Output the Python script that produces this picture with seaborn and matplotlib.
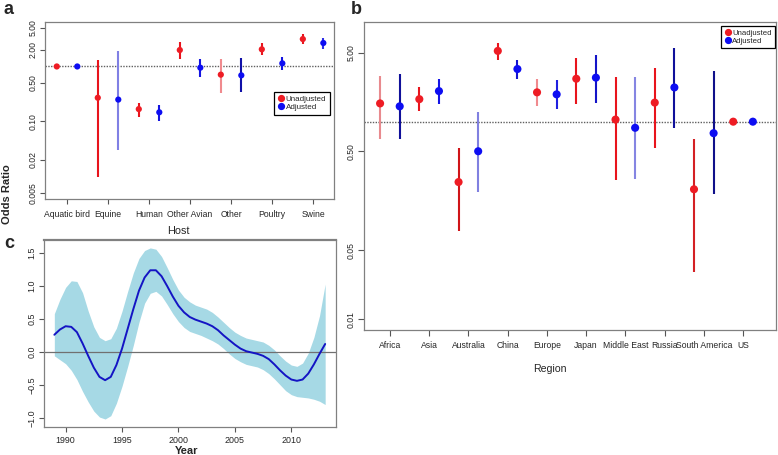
import numpy as np
import pandas as pd
import matplotlib
matplotlib.use("Agg")
import matplotlib.pyplot as plt
import seaborn as sns
from matplotlib.lines import Line2D
from matplotlib.ticker import NullLocator, FixedLocator, FixedFormatter

# ---------------- data ----------------
# Panel a: host
host = ["Aquatic bird", "Equine", "Human", "Other Avian", "Other", "Poultry", "Swine"]
host_unadj_or = [1.0, 0.27, 0.168, 1.99, 0.71, 2.05, 3.15]
host_unadj_lo = [1.0, 0.0099, 0.122, 1.35, 0.33, 1.61, 2.53]
host_unadj_hi = [1.0, 1.31, 0.22, 2.75, 1.36, 2.63, 3.84]
host_adj_or = [1.0, 0.25, 0.147, 0.95, 0.69, 1.14, 2.67]
host_adj_lo = [1.0, 0.030, 0.102, 0.64, 0.35, 0.86, 2.05]
host_adj_hi = [1.0, 1.93, 0.20, 1.36, 1.40, 1.47, 3.33]
host_yticks = [0.005, 0.02, 0.10, 0.50, 2.00, 5.00]
host_yticklabels = ["0.005", "0.02", "0.10", "0.50", "2.00", "5.00"]

# Panel b: region
regions = ["Africa", "Asia", "Australia", "China", "Europe", "Japan",
           "Middle East", "Russia", "South America", "US"]
reg_unadj_or = [1.53, 1.69, 0.245, 5.2, 1.98, 2.72, 1.05, 1.56, 0.207, 1.0]
reg_unadj_lo = [0.675, 1.29, 0.078, 4.25, 1.43, 1.51, 0.255, 0.547, 0.030, 1.0]
reg_unadj_hi = [2.92, 2.22, 0.547, 6.3, 2.68, 4.42, 2.81, 3.50, 0.665, 1.0]
reg_adj_or = [1.43, 2.04, 0.502, 3.41, 1.89, 2.79, 0.867, 2.22, 0.765, 1.0]
reg_adj_lo = [0.665, 1.51, 0.194, 2.72, 1.34, 1.56, 0.261, 0.873, 0.184, 1.0]
reg_adj_hi = [3.04, 2.72, 1.26, 4.25, 2.62, 4.77, 2.81, 5.58, 3.23, 1.0]
reg_yticks = [0.01, 0.05, 0.50, 5.00]
reg_yticklabels = ["0.01", "0.05", "0.50", "5.00"]

# Panel c: smooth year effect
years = [1989.0, 1989.5, 1990.0, 1990.5, 1991.0, 1991.5, 1992.0, 1992.5, 1993.0, 1993.5,
         1994.0, 1994.5, 1995.0, 1995.5, 1996.0, 1996.5, 1997.0, 1997.5, 1998.0, 1998.5,
         1999.0, 1999.5, 2000.0, 2000.5, 2001.0, 2001.5, 2002.0, 2002.5, 2003.0, 2003.5,
         2004.0, 2004.5, 2005.0, 2005.5, 2006.0, 2006.5, 2007.0, 2007.5, 2008.0, 2008.5,
         2009.0, 2009.5, 2010.0, 2010.5, 2011.0, 2011.5, 2012.0, 2012.5, 2013.0]
year_fit = [0.26, 0.34, 0.39, 0.38, 0.30, 0.13, -0.06, -0.24, -0.38, -0.43,
            -0.38, -0.20, 0.05, 0.35, 0.65, 0.93, 1.13, 1.24, 1.24, 1.15,
            1.00, 0.84, 0.70, 0.60, 0.53, 0.49, 0.46, 0.43, 0.39, 0.33,
            0.25, 0.18, 0.11, 0.05, 0.01, -0.01, -0.03, -0.06, -0.11, -0.19,
            -0.28, -0.36, -0.42, -0.44, -0.42, -0.33, -0.19, -0.03, 0.12]
year_upper = [0.58, 0.80, 0.98, 1.08, 1.07, 0.90, 0.62, 0.38, 0.22, 0.17,
              0.20, 0.36, 0.62, 0.92, 1.20, 1.42, 1.54, 1.58, 1.56, 1.45,
              1.28, 1.10, 0.94, 0.83, 0.76, 0.71, 0.68, 0.65, 0.60, 0.53,
              0.45, 0.37, 0.30, 0.25, 0.21, 0.19, 0.17, 0.15, 0.10, 0.03,
              -0.06, -0.14, -0.20, -0.22, -0.17, -0.02, 0.22, 0.55, 1.03]
year_lower = [-0.06, -0.12, -0.18, -0.28, -0.42, -0.60, -0.76, -0.90, -0.99, -1.02,
              -0.97, -0.78, -0.52, -0.22, 0.10, 0.45, 0.74, 0.89, 0.92, 0.85,
              0.72, 0.58, 0.46, 0.37, 0.31, 0.28, 0.25, 0.21, 0.17, 0.12,
              0.05, -0.03, -0.10, -0.15, -0.19, -0.21, -0.23, -0.27, -0.33, -0.41,
              -0.50, -0.59, -0.65, -0.68, -0.69, -0.70, -0.72, -0.75, -0.80]
year_ticks = [1990, 1995, 2000, 2005, 2010]
effect_ticks = [-1.0, -0.5, 0.0, 0.5, 1.0, 1.5]

# ---------------- styles ----------------
RED = "#ee1c24"
BLUE = "#0d0df2"
palette = {"Unadjusted": RED, "Adjusted": BLUE}
host_unadj_line = ["#ee1c24", "#e8141c", "#e8141c", "#e8141c", "#f08a8e", "#e8141c", "#e8141c"]
host_adj_line = ["#1414f0", "#8080e4", "#1414e0", "#1414e0", "#1010a8", "#1414e0", "#3030e6"]
reg_unadj_line = ["#e88a8e", "#e8141c", "#d01418", "#e8141c", "#f08a8e",
                  "#e8141c", "#e8141c", "#e8141c", "#d42024", "#ee1c24"]
reg_adj_line = ["#10109a", "#1414e6", "#8080e0", "#1414d0", "#2020e0",
                "#1414c8", "#8585e2", "#10109a", "#10108a", "#1414f0"]

sns.set_style("white")
plt.rcParams["font.family"] = ["Liberation Sans", "DejaVu Sans"]

W, H = 778, 455
fig = plt.figure(figsize=(W / 100, H / 100), dpi=100)


def ax_at(l, r, t, b):
    return fig.add_axes([l / W, 1 - b / H, (r - l) / W, (b - t) / H])


def build(cats, uor, ulo, uhi, aor, alo, ahi, uline, aline):
    rows = []
    for i, c in enumerate(cats):
        rows.append(dict(cat=c, idx=i, grp="Unadjusted", est=uor[i], lo=ulo[i], hi=uhi[i], lc=uline[i]))
        rows.append(dict(cat=c, idx=i, grp="Adjusted", est=aor[i], lo=alo[i], hi=ahi[i], lc=aline[i]))
    df = pd.DataFrame(rows)
    df["x"] = df["idx"] + df["grp"].map({"Unadjusted": -0.25, "Adjusted": 0.25})
    return df


def style_axes(ax, ticklen):
    for s in ax.spines.values():
        s.set_color("#808080")
        s.set_linewidth(0.9)
    ax.tick_params(axis="both", which="major", length=ticklen, width=0.8,
                   color="#555555", direction="out", bottom=True, left=True)


def forest(ax, df, cats, yticks, ylabels, ylim, xlim, msize, ticklen, xpad):
    ax.vlines(df["x"], df["lo"], df["hi"], colors=df["lc"], lw=1.5, zorder=2)
    sns.scatterplot(data=df, x="x", y="est", hue="grp", palette=palette, s=msize,
                    linewidth=0, ax=ax, zorder=3, legend=False)
    ax.axhline(1.0, color="#606060", lw=1.0, ls=(0, (1, 1)), zorder=1)
    ax.set_yscale("log")
    ax.set_ylim(*ylim)
    ax.set_xlim(*xlim)
    ax.yaxis.set_major_locator(FixedLocator(yticks))
    ax.yaxis.set_major_formatter(FixedFormatter(ylabels))
    ax.yaxis.set_minor_locator(NullLocator())
    ax.set_xticks(range(len(cats)))
    ax.set_xticklabels(cats, fontsize=6.2)
    ax.set_xlabel("")
    ax.set_ylabel("")
    style_axes(ax, ticklen)
    ax.tick_params(axis="x", pad=xpad)
    ax.tick_params(axis="y", pad=1.5, labelsize=6.2)
    for lab in ax.get_yticklabels():
        lab.set_rotation(90)
        lab.set_va("center")


def legend(ax, anchor, fs):
    handles = [Line2D([], [], ls="", marker="o", ms=4.2, color=RED, label="Unadjusted"),
               Line2D([], [], ls="", marker="o", ms=4.2, color=BLUE, label="Adjusted")]
    leg = ax.legend(handles=handles, loc="upper right", bbox_to_anchor=anchor,
                    fontsize=fs, frameon=True, fancybox=False, framealpha=1,
                    edgecolor="black", borderpad=0.45, handletextpad=0.1,
                    handlelength=0.9, labelspacing=0.05, borderaxespad=0)
    leg.get_frame().set_linewidth(0.9)


# ---------------- panel a ----------------
axa = ax_at(45, 334, 22, 199)
dfa = build(host, host_unadj_or, host_unadj_lo, host_unadj_hi,
            host_adj_or, host_adj_lo, host_adj_hi, host_unadj_line, host_adj_line)
forest(axa, dfa, host, host_yticks, host_yticklabels, (0.0039, 6.43),
       (-0.537, 6.51), 20, 3.5, 4.5)
legend(axa, ((330 - 45) / 289, (199 - 92) / 177), 5.8)
axa.set_xlabel("Host", fontsize=7.8)
axa.xaxis.set_label_coords((178 - 45) / 289, (199 - 231.5) / 177)
axa.xaxis.label.set_va("center")

# ---------------- panel b ----------------
axb = ax_at(364, 776, 22, 330)
dfb = build(regions, reg_unadj_or, reg_unadj_lo, reg_unadj_hi,
            reg_adj_or, reg_adj_lo, reg_adj_hi, reg_unadj_line, reg_adj_line)
forest(axb, dfb, regions, reg_yticks, reg_yticklabels, (0.0078, 10.2),
       (-0.66, 9.84), 34, 4.5, 3.5)
legend(axb, ((775 - 364) / 412, (330 - 26) / 308), 5.6)
axb.set_xlabel("Region", fontsize=7.6)
axb.xaxis.set_label_coords((550 - 364) / 412, (330 - 369) / 308)
axb.xaxis.label.set_va("center")

# ---------------- panel c ----------------
axc = ax_at(43.5, 336, 240, 427.3)
axc.fill_between(years, year_lower, year_upper, color="#a6d9e5", lw=0, zorder=1)
sns.lineplot(x=years, y=year_fit, ax=axc, color="#1414c4", lw=1.4, zorder=3)
axc.axhline(0.0, color="#707070", lw=0.9, zorder=2)
axc.set_xlim(1988.04, 2013.96)
axc.set_ylim(-1.146, 1.70)
axc.set_xticks(year_ticks)
axc.set_xticklabels([str(y) for y in year_ticks], fontsize=6.4)
axc.set_yticks(effect_ticks)
axc.set_yticklabels([f"{v:.1f}".replace("-", "\u2212") for v in effect_ticks], fontsize=6.4)
style_axes(axc, 3.5)
axc.tick_params(axis="x", pad=3)
axc.tick_params(axis="y", pad=1.5)
for lab in axc.get_yticklabels():
    lab.set_rotation(90)
    lab.set_va("center")
axc.spines["top"].set_linewidth(1.6)
axc.set_xlabel("Year", fontsize=8, fontweight="bold")
axc.xaxis.set_label_coords((187 - 43.5) / 292.5, (427.3 - 451) / 187.3)
axc.xaxis.label.set_va("center")
axc.set_ylabel("")

# ---------------- figure texts ----------------
fig.text(7 / W, 1 - 194 / H, "Odds Ratio", rotation=90, fontsize=8, fontweight="bold",
         ha="center", va="center")
fig.text(8.5 / W, 1 - 10 / H, "a", fontsize=13, fontweight="bold", ha="center", va="center")
fig.text(356 / W, 1 - 10 / H, "b", fontsize=13, fontweight="bold", ha="center", va="center")
fig.text(9.5 / W, 1 - 244 / H, "c", fontsize=13, fontweight="bold", ha="center", va="center")

fig.savefig("out.png", dpi=100)
